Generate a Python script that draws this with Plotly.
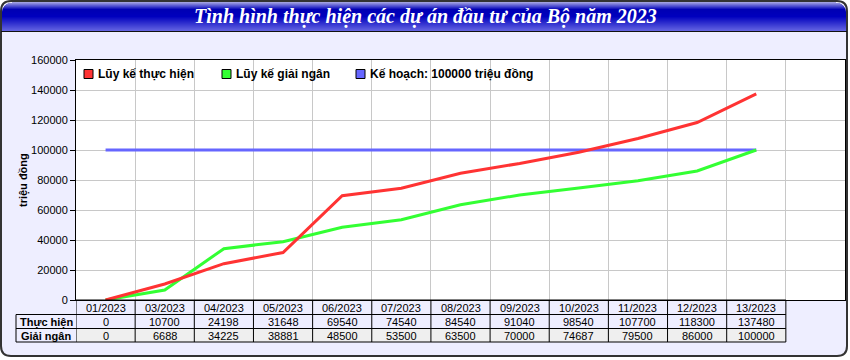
import plotly.graph_objects as go

# ---------------- data ----------------
categories = ["01/2023", "03/2023", "04/2023", "05/2023", "06/2023", "07/2023",
              "08/2023", "09/2023", "10/2023", "11/2023", "12/2023", "13/2023"]
thuc_hien = [0, 10700, 24198, 31648, 69540, 74540, 84540, 91040, 98540, 107700, 118300, 137480]
giai_ngan = [0, 6688, 34225, 38881, 48500, 53500, 63500, 70000, 74687, 79500, 86000, 100000]
ke_hoach = [100000] * 12
series_names = ["Lũy kế thực hiện", "Lũy kế giải ngân", "Kế hoạch: 100000 triệu đồng"]
row_labels = ["Thực hiện", "Giải ngân"]
y_ticks = [0, 20000, 40000, 60000, 80000, 100000, 120000, 140000, 160000]
title_text = "Tình hình thực hiện các dự án đầu tư của Bộ năm 2023"
y_title = "triệu đồng"

# ---------------- geometry helpers ----------------
W, H = 850, 360
L, R, T, B = 76, 845, 60, 300
PW, PH = R - L, B - T


def px(x):
    return (x - L) / PW


def py(y):
    return (B - y) / PH


FONT = "Arial, Liberation Sans, sans-serif"
colors = ["#FF3333", "#33FF33", "#6666FF"]
BG = "#EEEEFF"

fig = go.Figure()
for vals, name, c in zip([ke_hoach, giai_ngan, thuc_hien], series_names[::-1], colors[::-1]):
    fig.add_trace(go.Scatter(x=categories, y=vals, mode="lines", name=name,
                             line=dict(color=c, width=3), showlegend=False,
                             hoverinfo="x+y"))

shapes = []
annotations = []

# outer frame with rounded corners
x0, y0, x1, y1, r = 1, 1, 847, 356, 10
path = (f"M {px(x0 + r)},{py(y0)} L {px(x1 - r)},{py(y0)} Q {px(x1)},{py(y0)} {px(x1)},{py(y0 + r)} "
        f"L {px(x1)},{py(y1 - r)} Q {px(x1)},{py(y1)} {px(x1 - r)},{py(y1)} "
        f"L {px(x0 + r)},{py(y1)} Q {px(x0)},{py(y1)} {px(x0)},{py(y1 - r)} "
        f"L {px(x0)},{py(y0 + r)} Q {px(x0)},{py(y0)} {px(x0 + r)},{py(y0)} Z")
shapes.append(dict(type="path", xref="paper", yref="paper", path=path,
                   fillcolor=BG, line=dict(color="#333333", width=2), layer="below"))

# title bar gradient
stops = [(2, (160, 160, 225)), (6, (70, 70, 205)), (9, (0, 0, 180)),
         (16, (0, 0, 190)), (31, (105, 105, 228))]


def grad(y):
    for (ya, ca), (yb, cb) in zip(stops[:-1], stops[1:]):
        if ya <= y <= yb:
            t = (y - ya) / (yb - ya)
            return tuple(int(ca[k] + (cb[k] - ca[k]) * t) for k in range(3))
    return stops[-1][1] if y > stops[-1][0] else stops[0][1]


for yy in range(2, 31):
    inset = 0
    if yy < 2 + r:
        d = (2 + r) - yy
        inset = r - (r * r - d * d) ** 0.5
    c = grad(yy)
    shapes.append(dict(type="rect", xref="paper", yref="paper",
                       x0=px(2 + inset), x1=px(846 - inset), y0=py(yy + 1), y1=py(yy),
                       fillcolor=f"rgb{c}", line=dict(width=0), layer="below"))
shapes.append(dict(type="line", xref="paper", yref="paper", x0=px(1), x1=px(847),
                   y0=py(31.5), y1=py(31.5), line=dict(color="#111111", width=1), layer="below"))
annotations.append(dict(text=title_text, xref="paper", yref="paper", x=px(425), y=py(17),
                        xanchor="center", yanchor="middle", showarrow=False,
                        font=dict(family="Liberation Serif, Times New Roman, serif", size=20,
                                  color="white", weight="bold", style="italic")))

# white plot area
shapes.append(dict(type="rect", xref="paper", yref="paper", x0=0, x1=1, y0=0, y1=1,
                   fillcolor="white", line=dict(width=0), layer="below"))

# y-axis title
annotations.append(dict(text=y_title, xref="paper", yref="paper", x=px(23), y=py(180),
                        textangle=-90, showarrow=False, xanchor="center", yanchor="middle",
                        font=dict(family=FONT, size=11, color="black", weight="bold")))

# manual legend
leg_sq = [84, 222, 356]
for xs, name, c in zip(leg_sq, series_names, colors):
    shapes.append(dict(type="rect", xref="paper", yref="paper", x0=px(xs), x1=px(xs + 9),
                       y0=py(78.5), y1=py(69.5), fillcolor=c, line=dict(color="black", width=1)))
    annotations.append(dict(text=name, xref="paper", yref="paper", x=px(xs + 12), y=py(74),
                            xanchor="left", yanchor="middle", showarrow=False,
                            font=dict(family=FONT, size=12, color="black", weight="bold")))

# data table
rows_y = [300, 314.5, 328.5, 342]
n = len(categories)
for ri, fill in [(1, BG), (2, "#EFEFEF")]:
    shapes.append(dict(type="rect", xref="x", yref="paper", x0=-0.5, x1=n - 0.5,
                       y0=py(rows_y[ri + 1]), y1=py(rows_y[ri]), fillcolor=fill,
                       line=dict(width=0), layer="below"))
shapes.append(dict(type="line", xref="x", yref="paper", x0=-0.5, x1=n - 0.5,
                   y0=py(rows_y[0]), y1=py(rows_y[0]), line=dict(color="black", width=1)))
for yy in rows_y[1:]:
    shapes.append(dict(type="line", xref="paper", yref="paper", x0=px(16), x1=px(L),
                       y0=py(yy), y1=py(yy), line=dict(color="black", width=1)))
    shapes.append(dict(type="line", xref="x", yref="paper", x0=-0.5, x1=n - 0.5,
                       y0=py(yy), y1=py(yy), line=dict(color="black", width=1)))
for i in range(n + 1):
    shapes.append(dict(type="line", xref="x", yref="paper", x0=i - 0.5, x1=i - 0.5,
                       y0=py(rows_y[0]), y1=py(rows_y[-1]), line=dict(color="black", width=1)))
shapes.append(dict(type="line", xref="paper", yref="paper", x0=px(16), x1=px(16),
                   y0=py(rows_y[1]), y1=py(rows_y[-1]), line=dict(color="black", width=1)))

for i, cat in enumerate(categories):
    annotations.append(dict(text=cat, xref="x", yref="paper", x=i,
                            y=py((rows_y[0] + rows_y[1]) / 2 + 0.5),
                            showarrow=False, xanchor="center", yanchor="middle",
                            font=dict(family=FONT, size=11, color="black")))
    for ri, vals in enumerate([thuc_hien, giai_ngan]):
        annotations.append(dict(text=str(vals[i]), xref="x", yref="paper", x=i,
                                y=py((rows_y[ri + 1] + rows_y[ri + 2]) / 2 + 0.5),
                                showarrow=False, xanchor="center", yanchor="middle",
                                font=dict(family=FONT, size=11, color="black")))
for ri, lab in enumerate(row_labels):
    annotations.append(dict(text=lab, xref="paper", yref="paper", x=px(46),
                            y=py((rows_y[ri + 1] + rows_y[ri + 2]) / 2 + 0.5),
                            showarrow=False, xanchor="center", yanchor="middle",
                            font=dict(family=FONT, size=11, color="black", weight="bold")))

fig.update_layout(
    width=W, height=H,
    margin=dict(l=L, r=W - R, t=T, b=H - B, pad=0),
    paper_bgcolor="white",
    plot_bgcolor="rgba(0,0,0,0)",
    showlegend=False,
    shapes=shapes,
    annotations=annotations,
    font=dict(family=FONT, size=11, color="black"),
    xaxis=dict(type="category", categoryorder="array", categoryarray=categories,
               range=[-0.5, n + 0.5], tickson="boundaries", showticklabels=False,
               ticks="", showgrid=True, gridcolor="#C8C8C8", gridwidth=1,
               showline=True, linecolor="black", linewidth=1, mirror=True,
               fixedrange=True),
    yaxis=dict(range=[0, 160000], tickvals=y_ticks, ticktext=[str(v) for v in y_ticks],
               ticks="outside", ticklen=5, tickcolor="black", showgrid=True,
               gridcolor="#C8C8C8", gridwidth=1, zeroline=False,
               showline=True, linecolor="black", linewidth=1, mirror=True,
               tickfont=dict(family=FONT, size=11, color="black"), fixedrange=True),
)

fig.write_html("out.html", config={"displayModeBar": False},
               post_script="document.body.style.margin='0px';document.body.style.padding='0px';")
